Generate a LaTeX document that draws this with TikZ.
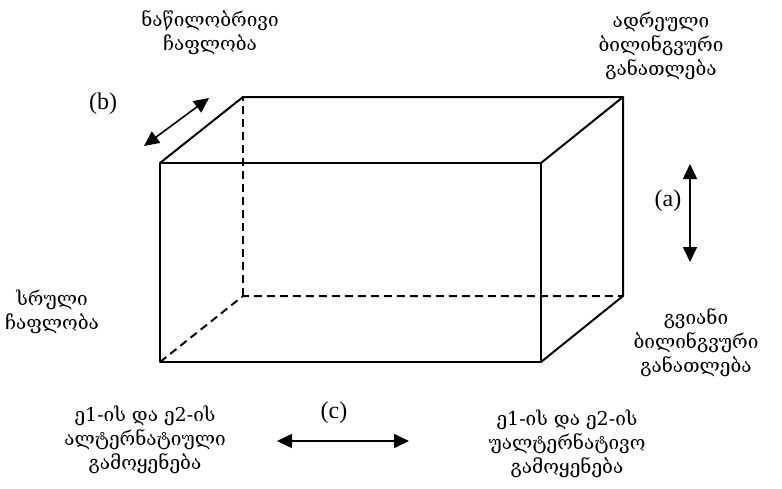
\documentclass[tikz,border=0pt]{standalone}
\usepackage{fontspec}
\setmainfont{Liberation Serif}
\newfontfamily\geofont{DejaVu Serif}
\usetikzlibrary{arrows.meta}

\begin{document}
\begin{tikzpicture}[x=0.5pt,y=-0.5pt,font=\fontsize{12}{14}\selectfont,line join=round,>={Triangle[length=7.5pt,width=7pt]}]
	\tikzset{georgian/.style={font=\geofont\fontsize{9.5}{12}\selectfont,align=center}}
	\useasboundingbox (0,0) rectangle (782,488);
	
	% front face
	\coordinate (F1) at (160, 362);
	\coordinate (F2) at (541, 362);
	\coordinate (F3) at (541, 163);
	\coordinate (F4) at (160, 163);
	
	% back face
	\coordinate (B1) at (243, 296);
	\coordinate (B2) at (623, 296);
	\coordinate (B3) at (623, 97);
	\coordinate (B4) at (243, 97);
	
	\draw[line width=1pt] (F1) -- (F2) -- (F3) -- (F4) -- cycle;
	\draw[line width=1pt] (F4) -- (B4) -- (B3) -- (B2) -- (F2);
	\draw[line width=1pt] (F3) -- (B3);
	\draw[line width=1pt, dash pattern=on 4pt off 2.5pt] (F1) -- (B1) -- (B2);
	\draw[line width=1pt, dash pattern=on 4pt off 2.5pt] (B1) -- (B4);
	
	% arrows
	\coordinate (a1) at (690, 164);
	\coordinate (a2) at (690, 262);
	\coordinate (b1) at (144, 146);
	\coordinate (b2) at (209, 98);
	\coordinate (c1) at (277, 441);
	\coordinate (c2) at (409, 441);
	
	\draw[<->, line width=0.8pt] (a1) -- (a2);
	\draw[<->, line width=0.8pt] (b1) -- (b2);
	\draw[<->, line width=0.8pt] (c1) -- (c2);
	
	\node (la) at (668, 201) {(a)};
	\node (lb) at (103, 104) {(b)};
	\node (lc) at (334, 413) {(c)};
	
	% texts
	\node[georgian] (partial) at (210, 33) {ნაწილობრივი\\ჩაფლობა};
	\node[georgian] (early) at (661, 46) {ადრეული\\ბილინგვური\\განათლება};
	\node[georgian] (full) at (52, 312) {სრული\\ჩაფლობა};
	\node[georgian] (late) at (696, 343) {გვიანი\\ბილინგვური\\განათლება};
	\node[georgian] (altern) at (145, 440) {ე1-ის და ე2-ის\\ალტერნატიული\\გამოყენება};
	\node[georgian] (nonalt) at (567, 444) {ე1-ის და ე2-ის\\უალტერნატივო\\გამოყენება};
\end{tikzpicture}
\end{document}
